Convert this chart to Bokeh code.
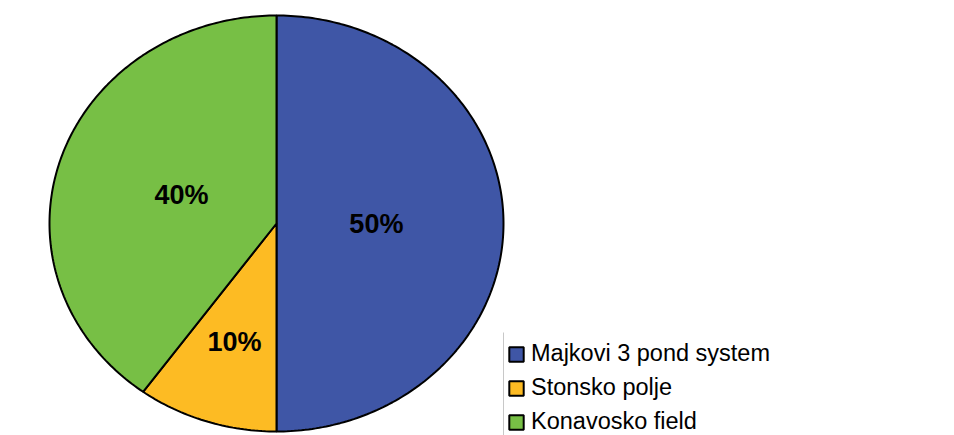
import numpy as np
from bokeh.plotting import figure
from bokeh.models import ColumnDataSource, Range1d, Legend, LegendItem
from bokeh.core.properties import value
from bokeh.embed import file_html
from bokeh.resources import INLINE

# Share of each site
sites = ["Majkovi 3 pond system", "Stonsko polje", "Konavosko field"]
shares = [50, 10, 40]
colors = ["#3f56a6", "#fdbb23", "#77bf45"]

W, H = 954, 435
cx, cy = 276, 223        # pie centre (screen px)
rx, ry = 227, 208        # horizontal / vertical radius

p = figure(width=W, height=H, output_backend="svg", toolbar_location=None,
           x_range=Range1d(0, W), y_range=Range1d(H, 0),
           min_border=0, outline_line_color=None)
p.axis.visible = False
p.grid.visible = False

# Slices run clockwise from 12 o'clock; angles measured clockwise from the top
total = float(sum(shares))
fracs = np.array(shares) / total
ends = np.cumsum(fracs) * 2 * np.pi
starts = ends - fracs * 2 * np.pi

xs, ys, lx, ly, labels = [], [], [], [], []
for s, e, f in zip(starts, ends, fracs):
    t = np.linspace(s, e, max(8, int(400 * f)))
    xs.append([cx] + list(cx + rx * np.sin(t)) + [cx])
    ys.append([cy] + list(cy - ry * np.cos(t)) + [cy])
    mid = (s + e) / 2
    k = 0.44 if f >= 0.25 else 0.6
    lx.append(cx + k * rx * np.sin(mid))
    ly.append(cy - k * ry * np.cos(mid))
    labels.append(f"{round(f * 100)}%")

src = ColumnDataSource(dict(xs=xs, ys=ys, color=colors, name=sites))
r = p.patches("xs", "ys", source=src, fill_color="color",
              line_color="black", line_width=2)

lab = ColumnDataSource(dict(x=lx, y=ly, text=labels))
p.text("x", "y", text="text", source=lab, text_align="center",
       text_baseline="middle", text_font=value("Liberation Sans"),
       text_font_style="bold", text_font_size="27px", text_color="black")

# thin rule on the legend's left side
p.segment(x0=[503], y0=[332], x1=[503], y1=[H], line_color="#c8c8c8",
          line_width=1)

legend = Legend(items=[LegendItem(label=n, renderers=[r], index=i)
                       for i, n in enumerate(sites)],
                location=(507, 0), margin=0, padding=5, spacing=7,
                glyph_width=18, glyph_height=18, label_standoff=6,
                label_text_font="Liberation Sans", label_text_font_size="23.5px",
                label_text_color="black", label_height=26,
                border_line_color=None, background_fill_alpha=0)
p.add_layout(legend)

open("out.html", "w").write(file_html(p, INLINE))
